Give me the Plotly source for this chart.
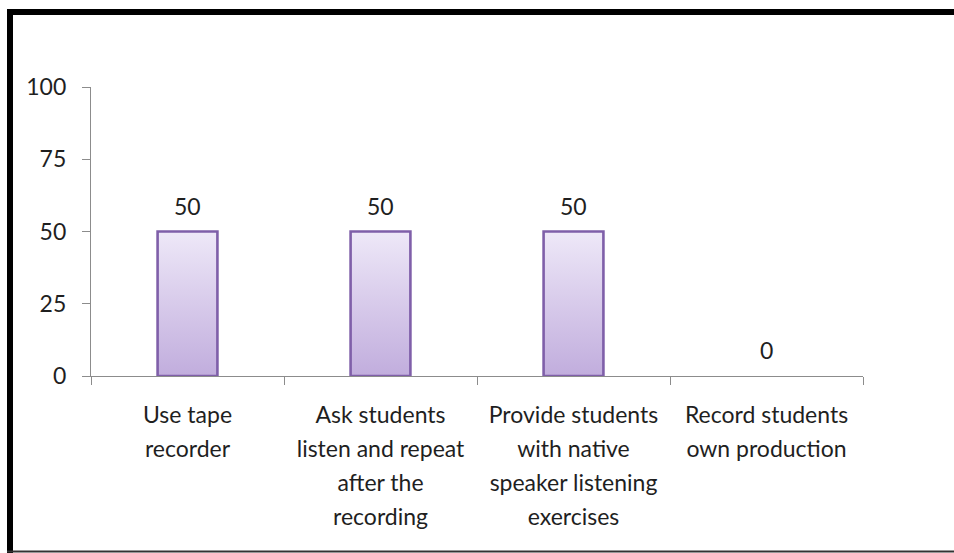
import plotly.graph_objects as go

# Survey responses: share of teachers (%) using each listening technique
categories = [
    "Use tape<br>recorder",
    "Ask students<br>listen and repeat<br>after the<br>recording",
    "Provide students<br>with native<br>speaker listening<br>exercises",
    "Record students<br>own production",
]
values = [50, 50, 50, 0]
y_ticks = [0, 25, 50, 75, 100]

W, H = 954, 553
M_L, M_R, M_T, M_B = 91, 91, 87, 177
PW, PH = W - M_L - M_R, H - M_T - M_B
BAR_W = 0.31
FONT = "Lato, 'Open Sans', sans-serif"
TXT = "#1f1f1f"
AXIS = "#8c8c8c"
LABEL_SIZE = 23


def px_x(x):
    return (x - M_L) / PW


def px_y(y):
    return (H - M_B - y) / PH


def small(label, size=LABEL_SIZE):
    # keep the 26px line pitch of the tick font while drawing glyphs smaller
    return "<br>".join(f"<span style='font-size:{size}px'>{s}</span>" for s in label.split("<br>"))


fig = go.Figure()

# bars: gradient-filled rectangles with a purple outline
for i, v in enumerate(values):
    if v <= 0:
        continue
    x0, x1 = i - BAR_W / 2, i + BAR_W / 2
    fig.add_trace(go.Scatter(
        x=[x0, x1, x1, x0, x0], y=[0, 0, v, v, 0],
        mode="lines", fill="toself",
        line=dict(color="#7f5fa9", width=2.6),
        fillgradient=dict(type="vertical",
                          colorscale=[[0, "#c1addd"], [1, "#eee8f8"]],
                          start=0, stop=v),
        hoverinfo="skip", showlegend=False, cliponaxis=False,
    ))

# value labels above each bar
for i, v in enumerate(values):
    fig.add_annotation(x=i, y=v, text=str(v), showarrow=False,
                       yanchor="middle", yshift=26,
                       font=dict(family=FONT, size=LABEL_SIZE, color=TXT))

fig.update_layout(
    width=W, height=H,
    margin=dict(l=M_L, r=M_R, t=M_T, b=M_B, autoexpand=False),
    paper_bgcolor="white", plot_bgcolor="white",
    font=dict(family=FONT, color=TXT),
    xaxis=dict(
        range=[-0.5, len(values) - 0.5],
        tickvals=list(range(len(values))),
        ticktext=[small(c) for c in categories],
        ticks="", showgrid=False, zeroline=False,
        showline=True, linecolor=AXIS, linewidth=1.3,
        tickfont=dict(family=FONT, size=26, color=TXT),
        ticklabelstandoff=15,
        minor=dict(tick0=-0.5, dtick=1, ticks="outside", ticklen=8,
                   tickcolor=AXIS, tickwidth=1.3, showgrid=False),
        fixedrange=True,
    ),
    yaxis=dict(
        range=[0, 100], tickvals=y_ticks,
        ticks="outside", ticklen=8, tickcolor=AXIS, tickwidth=1.3,
        showline=True, linecolor=AXIS, linewidth=1.3,
        showgrid=False, zeroline=False,
        tickfont=dict(family=FONT, size=LABEL_SIZE, color=TXT),
        ticklabelstandoff=11,
    ),
)

# frame around the chart area: thick top and left edges, thin bottom edge
fig.add_shape(type="line", xref="paper", yref="paper",
              x0=px_x(7), x1=px_x(W + 20), y0=px_y(12), y1=px_y(12),
              line=dict(color="black", width=6))
fig.add_shape(type="line", xref="paper", yref="paper",
              x0=px_x(10), x1=px_x(10), y0=px_y(9), y1=px_y(H + 5),
              line=dict(color="black", width=6))
fig.add_shape(type="line", xref="paper", yref="paper",
              x0=px_x(7), x1=px_x(W + 20), y0=px_y(551.5), y1=px_y(551.5),
              line=dict(color="#333333", width=2))

fig.write_html("out.html")
